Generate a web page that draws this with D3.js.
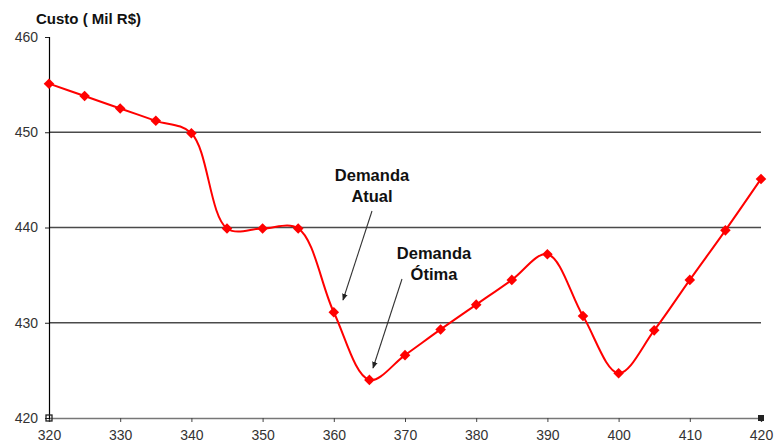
<!DOCTYPE html>
<html>
<head>
<meta charset="utf-8">
<script src="https://cdn.jsdelivr.net/npm/d3@7"></script>
<style>
  html, body { margin: 0; padding: 0; background: #fff; }
  svg { display: block; font-family: Arial, "Liberation Sans", sans-serif; }
</style>
</head>
<body>
<svg id="chart" width="774" height="447"></svg>
<script>
// Custo total (mil R$) por nível de demanda
const demanda = [320, 325, 330, 335, 340, 345, 350, 355, 360, 365, 370,
                 375, 380, 385, 390, 395, 400, 405, 410, 415, 420];
const custo = [455.1, 453.8, 452.5, 451.2, 449.9, 439.9, 439.9, 439.9, 431.1, 424.0, 426.6,
               429.3, 431.9, 434.5, 437.2, 430.7, 424.7, 429.2, 434.5, 439.7, 445.1];
const xTicks = [320, 330, 340, 350, 360, 370, 380, 390, 400, 410, 420];
const yTicks = [420, 430, 440, 450, 460];
const gridValues = [430, 440, 450];
const yTitle = "Custo ( Mil R$)";
// Anotações: rótulo (duas linhas), demanda apontada
const notes = [
  { lines: ["Demanda", "Atual"], at: 360 },
  { lines: ["Demanda", "Ótima"], at: 365 }
];

const svg = d3.select("#chart");
const x = d3.scaleLinear().domain([320, 420]).range([49, 761]);
const y = d3.scaleLinear().domain([420, 460]).range([418, 37]);

// Linhas de grade
svg.append("g").selectAll("line").data(gridValues).join("line")
  .attr("x1", x(320)).attr("x2", x(420))
  .attr("y1", d => y(d)).attr("y2", d => y(d))
  .attr("stroke", "#4a4a4a").attr("stroke-width", 1.3);

// Eixo X
const xAxis = svg.append("g").attr("transform", `translate(0,${y(420)})`)
  .call(d3.axisBottom(x).tickValues(xTicks).tickSize(4).tickPadding(8).tickFormat(d3.format("d")));
xAxis.select(".domain").attr("stroke", "#777").attr("stroke-width", 1.5);
xAxis.selectAll(".tick line").attr("stroke", "#444");
xAxis.selectAll("text").attr("font-size", 14).attr("fill", "#333")
  .attr("font-family", "Arial, 'Liberation Sans', sans-serif");

// Eixo Y
const yAxis = svg.append("g").attr("transform", `translate(${x(320)},0)`)
  .call(d3.axisLeft(y).tickValues(yTicks).tickSize(4).tickPadding(7).tickFormat(d3.format("d")));
yAxis.select(".domain").attr("stroke", "#000").attr("stroke-width", 1.2);
yAxis.selectAll(".tick line").attr("stroke", "#222");
yAxis.selectAll("text").attr("font-size", 14).attr("fill", "#333")
  .attr("font-family", "Arial, 'Liberation Sans', sans-serif");

// Marcas nas extremidades dos eixos
svg.append("rect").attr("x", x(320) - 3).attr("y", y(420) - 3)
  .attr("width", 6).attr("height", 6).attr("fill", "none").attr("stroke", "#222").attr("stroke-width", 1.3);
svg.append("rect").attr("x", x(420) - 3).attr("y", y(420) - 3)
  .attr("width", 6).attr("height", 6).attr("fill", "#222");

// Título do eixo Y
svg.append("text").attr("x", 36).attr("y", 24)
  .attr("font-size", 15).attr("font-weight", "bold").attr("fill", "#111")
  .text(yTitle);

// Curva suavizada
const pts = demanda.map((d, i) => [d, custo[i]]);
const line = d3.line().x(d => x(d[0])).y(d => y(d[1])).curve(d3.curveCatmullRom.alpha(0.5));
svg.append("path").datum(pts).attr("d", line)
  .attr("fill", "none").attr("stroke", "#ff0000").attr("stroke-width", 2);

// Marcadores em losango
svg.append("g").selectAll("path").data(pts).join("path")
  .attr("transform", d => `translate(${x(d[0])},${y(d[1])}) rotate(45)`)
  .attr("d", d3.symbol(d3.symbolSquare, 56))
  .attr("fill", "#ff0000");

// Setas das anotações
const defs = svg.append("defs");
defs.append("marker").attr("id", "arrow").attr("viewBox", "0 0 10 10")
  .attr("refX", 9).attr("refY", 5).attr("markerWidth", 7).attr("markerHeight", 7)
  .attr("markerUnits", "userSpaceOnUse").attr("orient", "auto")
  .append("path").attr("d", "M0,1 L10,5 L0,9 Z").attr("fill", "#222");

const noteLayout = [
  { tx: 372, ty: 181, from: [372, 211], to: [343, 300] },
  { tx: 434, ty: 259, from: [402, 279], to: [373, 368] }
];
notes.forEach((n, i) => {
  const L = noteLayout[i];
  const t = svg.append("text").attr("x", L.tx).attr("y", L.ty)
    .attr("text-anchor", "middle").attr("font-size", 16.5).attr("font-weight", "bold").attr("fill", "#111");
  n.lines.forEach((s, k) => t.append("tspan").attr("x", L.tx).attr("dy", k === 0 ? 0 : 21).text(s));
  svg.append("line").attr("x1", L.from[0]).attr("y1", L.from[1])
    .attr("x2", L.to[0]).attr("y2", L.to[1])
    .attr("stroke", "#333").attr("stroke-width", 1.1).attr("marker-end", "url(#arrow)");
});
</script>
</body>
</html>
